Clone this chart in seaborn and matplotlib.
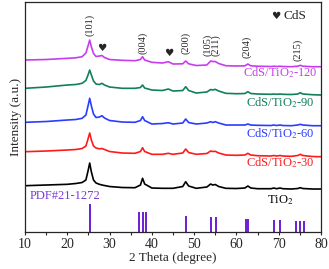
import matplotlib
matplotlib.use("Agg")
import matplotlib.pyplot as plt
import seaborn as sns
import numpy as np

# 2 theta grid (degree) shared by all patterns
two_theta = [10, 15, 20, 22, 23.5, 24.4, 24.9, 25.3, 25.7, 26.2, 26.8, 27.6, 28.2, 28.8,
             30, 33, 36, 37.3, 37.8, 38.3, 40, 42.5, 43.9, 45, 47.3, 48.0, 48.7, 50.5,
             53.0, 53.9, 54.4, 55.0, 55.8, 57.5, 60, 62.0, 62.7, 63.4, 65, 68.2, 68.8,
             69.5, 70.3, 71, 73, 74.5, 75.1, 75.7, 78, 80]

tio2 = [46.3, 47, 47.7, 48.5, 49.5, 52, 61, 69, 60, 52, 49, 47.7, 47, 46.5, 45.5, 44.5,
        44.3, 47, 53.7, 48, 44, 43.7, 43.7, 43.7, 45.5, 50.3, 46, 43.7, 45, 48, 47, 47.5,
        45.5, 43.7, 43.5, 44, 46, 44, 43.3, 43.3, 44, 43.3, 44, 43.3, 43, 43.5, 44.3,
        43.5, 43, 43]
cds_30 = [80.3, 81, 82, 82.5, 83.5, 86, 93, 99, 92, 86, 84, 83.2, 83.5, 82.5, 80.5, 79,
          78.7, 80.5, 84.3, 80.5, 77.7, 77.7, 78.7, 77.7, 79, 83, 79.5, 77.7, 78.5, 81,
          80.5, 80.7, 79, 77, 76.7, 77, 78.7, 77, 76.3, 76, 76.5, 76, 76.5, 76, 75.7,
          76.5, 77.7, 76.5, 75.5, 75.3]
cds_60 = [109.7, 110.5, 112, 112.5, 113.7, 117, 126, 133.7, 126, 118, 114.5, 115, 116.3,
          114, 111.5, 110, 109.7, 111.5, 115.3, 111.5, 108, 108.5, 109.3, 108, 109, 113,
          109.5, 108, 109, 110.3, 109.5, 110.3, 109, 107, 107, 107, 108, 107, 106.7,
          106.5, 107, 106.5, 107, 106.5, 106.3, 107, 107.7, 107, 106.3, 106.3]
cds_90 = [143.7, 145, 147, 147.5, 148.7, 151.5, 157, 162, 157, 151, 148, 147.5, 148.7,
          147, 145, 143.7, 143.7, 144.5, 147, 144, 142, 141.5, 143, 141, 141.5, 145.3,
          141.5, 139, 140, 142.5, 142, 142.7, 141, 138.7, 138.3, 138.5, 140.3, 138.5,
          138, 137.7, 138, 137.7, 138, 137.7, 137.5, 138, 139.3, 138, 137.3, 137]
cds_120 = [172, 172.5, 173.7, 174.2, 175.3, 179, 186, 192, 185, 178.5, 175.5, 176, 176.5,
           174.5, 172.5, 171.7, 171.3, 172.5, 175.3, 172, 169.7, 169, 170.3, 168, 168.2,
           171, 168.2, 166.5, 167, 171, 170.5, 170.5, 168.5, 166.3, 166, 166.2, 168,
           166.2, 165.8, 165.5, 165.8, 165.5, 165.8, 165.5, 165.3, 165.8, 166.7, 165.8,
           165.3, 165.3]

series = [tio2, cds_30, cds_60, cds_90, cds_120]
series_labels = ["TiO$_2$", "CdS/TiO$_2$-30", "CdS/TiO$_2$-60", "CdS/TiO$_2$-90",
                 "CdS/TiO$_2$-120"]
series_colors = ["#000000", "#ff1a1a", "#2a3cff", "#11805a", "#c83cf0"]
label_y = [32, 69, 98, 129, 159]

# PDF#21-1272 reference lines
pdf_pos = [25.3, 37.0, 37.8, 38.6, 48.1, 53.9, 55.1, 62.2, 62.7, 68.8, 70.3, 74.0, 75.0, 76.0]
pdf_height = [28, 20, 20, 20, 16, 15, 15, 13, 13, 12, 12, 11, 11, 11]

# peak indices
hkl = ["(101)", "(004)", "(200)", "(105)", "(211)", "(204)", "(215)"]
hkl_x = [25.2, 37.8, 48.0, 53.1, 55.1, 62.4, 74.6]
hkl_y = [207, 189, 189, 187, 187, 185, 182]
cds_peak_x = [28.2, 44.0]
cds_peak_y = [184, 179]

sns.set_style("ticks")
plt.rcParams["font.family"] = ["Liberation Serif", "DejaVu Sans"]
plt.rcParams["mathtext.fontset"] = "stix"

fig = plt.figure(figsize=(3.29, 2.69), dpi=100)
ax = fig.add_axes([0.076, 0.1375, 0.8997, 0.855])

for ys, lab, col, ly in zip(series, series_labels, series_colors, label_y):
    sns.lineplot(x=two_theta, y=ys, color=col, lw=1.2, ax=ax)
    ax.text(70.3, ly, lab, color=col, ha="center", va="center", fontsize=9)

ax.vlines(pdf_pos, 0, pdf_height, color="#6a1ed2", lw=1.4)
ax.text(11.0, 36, "PDF#21-1272", color="#7a3ad6", ha="left", va="center", fontsize=9)

for t, x, y in zip(hkl, hkl_x, hkl_y):
    ax.text(x, y, t, rotation=90, ha="center", va="center", fontsize=7.5)
for x, y in zip(cds_peak_x, cds_peak_y):
    ax.text(x, y, "\u2665", ha="center", va="center", fontsize=7.5,
            family=["DejaVu Sans"])
ax.text(69.4, 216, "\u2665", ha="center", va="center", fontsize=7.5, family=["DejaVu Sans"])
ax.text(71.2, 216, "CdS", ha="left", va="center", fontsize=9.5)

ax.set_xlim(10, 80)
ax.set_ylim(0, 230)
ax.set_xticks(np.arange(10, 81, 10))
ax.set_xticks(np.arange(15, 80, 10), minor=True)
ax.set_yticks([])
ax.tick_params(axis="x", which="both", direction="out", length=2, width=0.8,
               labelsize=10, pad=2)
for s in ax.spines.values():
    s.set_linewidth(0.9)
ax.set_xlabel("2 Theta (degree)", fontsize=9.5, labelpad=1)
ax.set_ylabel("Intensity (a.u.)", fontsize=9.5, labelpad=2)

fig.savefig("out.png", dpi=100)
